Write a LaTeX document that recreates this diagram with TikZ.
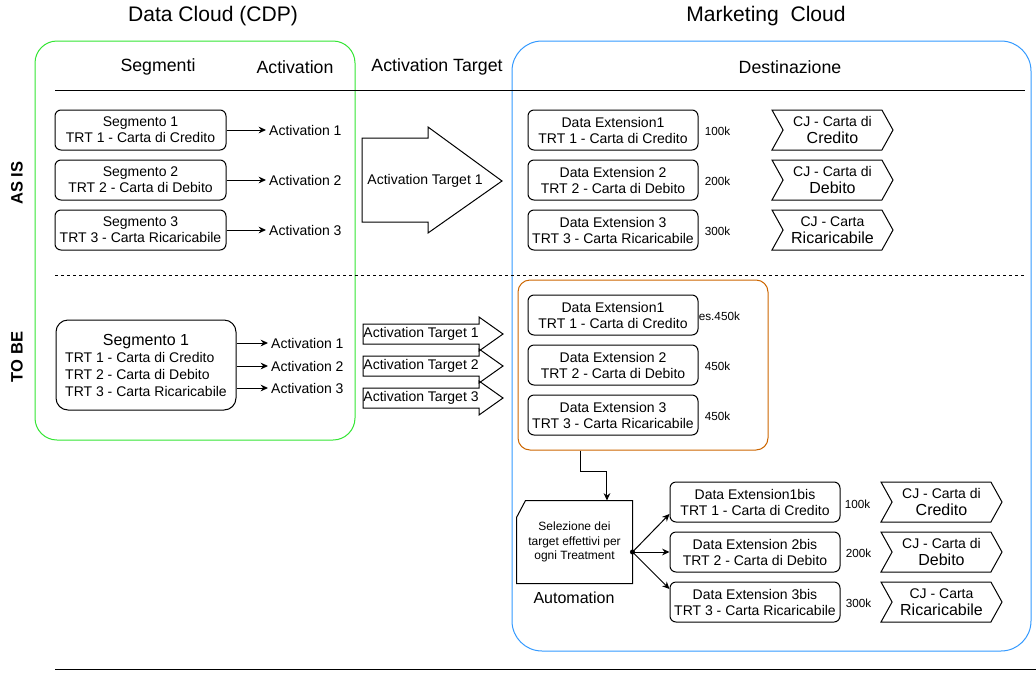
\documentclass[tikz,border=0pt]{standalone}
\usepackage{fontspec}
\setmainfont{Liberation Sans}
\usepackage{tikz}
\usetikzlibrary{shapes.symbols,arrows.meta,positioning,calc}
\newlength\pxu
\setlength\pxu{0.75pt}
\newcommand\cjbig{\fontsize{12}{13}\selectfont}

\begin{document}
\begin{tikzpicture}[x=0.75pt,y=-0.75pt,line width=0.75pt,
  font=\fontsize{10.5}{12}\selectfont,
  ttl/.style={font=\fontsize{15.8}{18}\selectfont},
  hdr/.style={font=\fontsize{13.3}{16}\selectfont},
  side/.style={font=\bfseries\fontsize{12.4}{14}\selectfont,rotate=90},
  segbox/.style={draw,rounded corners=6\pxu,minimum width=171\pxu,minimum height=40\pxu,align=center,inner sep=1pt},
  debox/.style={draw,rounded corners=6\pxu,minimum width=170\pxu,minimum height=40\pxu,align=center,inner sep=1pt},
  cjbox/.style={draw,signal,signal from=west,signal to=east,signal pointer angle=122,minimum width=121\pxu,minimum height=40\pxu,align=center,inner sep=1pt},
  act/.style={anchor=west,inner sep=2pt},
  num/.style={anchor=west,inner sep=1pt,font=\fontsize{8.8}{10}\selectfont},
  lnk/.style={-{Stealth[length=5.5pt,width=5pt]}},
  tgt/.style={draw,line join=miter}]
%
\useasboundingbox (0,0) rectangle (1036,672);
%
\definecolor{cgreen}{rgb}{0.2,0.9,0.2}
\definecolor{cblue}{rgb}{0.2,0.6,1.0}
\definecolor{corange}{rgb}{0.8,0.4,0.0}
%
\node (cdp) [ttl] at (213,16) {Data Cloud (CDP)};
\node (mkc) [ttl] at (766,16) {Marketing\ \ Cloud};
%
\node (cdpbox) [draw=cgreen,rounded corners=22\pxu,minimum width=320\pxu,minimum height=399\pxu] at (195,240.5) {};
\node (mkcbox) [draw=cblue,rounded corners=30\pxu,minimum width=519\pxu,minimum height=610\pxu] at (771.5,346) {};
%
\node (hseg) [hdr] at (158,67) {Segmenti};
\node (hact) [hdr] at (295,67) {Activation};
\node (htgt) [hdr] at (437,67) {Activation Target};
\node (hdst) [hdr] at (790,67) {Destinazione};
\draw (55,90) -- (1025,90);
\draw[dash pattern=on 2.25pt off 2.25pt] (55,275) -- (1025,275);
\draw (55,669) -- (1036,669);
%
\node (asis) [side] at (17,183) {AS IS};
\node (tobe) [side] at (17,357) {TO BE};
%
% AS IS
\node (seg1) [segbox] at (140.5,130) {Segmento 1\\TRT 1 - Carta di Credito};
\node (seg2) [segbox] at (140.5,180) {Segmento 2\\TRT 2 - Carta di Debito};
\node (seg3) [segbox] at (140.5,230) {Segmento 3\\TRT 3 - Carta Ricaricabile};
\node (act1) [act] at (266,130) {Activation 1};
\node (act2) [act] at (266,180) {Activation 2};
\node (act3) [act] at (266,230) {Activation 3};
\draw[lnk] (seg1) -- (act1);
\draw[lnk] (seg2) -- (act2);
\draw[lnk] (seg3) -- (act3);
%
\draw[tgt] (362,138) -- (428,138) -- (428,127) -- (502,181) -- (428,233) -- (428,222) -- (362,222) -- cycle;
\node (tgt1) at (425,181) {Activation Target 1};
%
\node (de1) [debox] at (613,130) {Data Extension1\\TRT 1 - Carta di Credito};
\node (de2) [debox] at (613,180) {Data Extension 2\\TRT 2 - Carta di Debito};
\node (de3) [debox] at (613,230) {Data Extension 3\\TRT 3 - Carta Ricaricabile};
\node (n1) [num] at (703,131) {100k};
\node (n2) [num] at (703,181) {200k};
\node (n3) [num] at (703,231) {300k};
\node (cj1) [cjbox] at (832.5,130) {CJ - Carta di\\[1pt]{\cjbig Credito}};
\node (cj2) [cjbox] at (832.5,180) {CJ - Carta di\\[1pt]{\cjbig Debito}};
\node (cj3) [cjbox] at (832.5,230) {CJ - Carta\\[1pt]{\cjbig Ricaricabile}};
%
% TO BE
\node (segtb) [draw,rounded corners=12\pxu,minimum width=180\pxu,minimum height=90\pxu,inner sep=1pt] at (146,365)
  {\fontsize{10.5}{12.75}\selectfont\begin{tabular}{@{}l@{}}\multicolumn{1}{@{}c@{}}{\rule{0pt}{13.5pt}\fontsize{12}{14}\selectfont Segmento 1}\\TRT 1 - Carta di Credito\\TRT 2 - Carta di Debito\\TRT 3 - Carta Ricaricabile\end{tabular}};
\node (acttb1) [act] at (268,343) {Activation 1};
\node (acttb2) [act] at (268,366) {Activation 2};
\node (acttb3) [act] at (268,388) {Activation 3};
\draw[lnk] (segtb.east |- acttb1.west) -- (acttb1);
\draw[lnk] (segtb.east |- acttb2.west) -- (acttb2);
\draw[lnk] (segtb.east |- acttb3.west) -- (acttb3);
%
\draw[tgt] (363,324) -- (479,324) -- (479,317) -- (503,334) -- (479,351) -- (479,344) -- (363,344) -- cycle;
\draw[tgt] (363,356) -- (479,356) -- (479,349) -- (503,366) -- (479,383) -- (479,376) -- (363,376) -- cycle;
\draw[tgt] (363,388) -- (479,388) -- (479,381) -- (503,398) -- (479,415) -- (479,408) -- (363,408) -- cycle;
\node (tgttb1) at (421,334) {Activation Target 1};
\node (tgttb2) at (421,366) {Activation Target 2};
\node (tgttb3) at (421,398) {Activation Target 3};
%
\node (debox) [draw=corange,rounded corners=12\pxu,minimum width=250\pxu,minimum height=170\pxu] at (643,365) {};
\node (detb1) [debox] at (613,315) {Data Extension1\\TRT 1 - Carta di Credito};
\node (detb2) [debox] at (613,365) {Data Extension 2\\TRT 2 - Carta di Debito};
\node (detb3) [debox] at (613,415) {Data Extension 3\\TRT 3 - Carta Ricaricabile};
\node (ntb1) [num] at (697,316) {es.450k};
\node (ntb2) [num] at (703,366) {450k};
\node (ntb3) [num] at (703,416) {450k};
%
\node (auto) [minimum width=115\pxu,minimum height=82\pxu,align=center,inner sep=1pt,font=\fontsize{9}{10.9}\selectfont] at (574.5,542)
  {Selezione dei\\target effettivi per\\ogni Treatment};
\draw (auto.south west) -- (auto.south east) -- (auto.north east) -- ($(auto.north west)+(9,0)$) -- ($(auto.north west)+(0,17)$) -- cycle;
\node (autolbl) [font=\fontsize{12}{14}\selectfont] at (574,598) {Automation};
\draw[lnk] ($(debox.south west)!0.25!(debox.south east)$) -- ++(0,21) -| ($(auto.north west)!0.78!(auto.north east)$);
%
\node (de1b) [debox] at (755,502) {Data Extension1bis\\TRT 1 - Carta di Credito};
\node (de2b) [debox] at (755,552) {Data Extension 2bis\\TRT 2 - Carta di Debito};
\node (de3b) [debox] at (755,602) {Data Extension 3bis\\TRT 3 - Carta Ricaricabile};
\node (n1b) [num] at (843,504) {100k};
\node (n2b) [num] at (844,553) {200k};
\node (n3b) [num] at (844,603) {300k};
\node (cj1b) [cjbox] at (941.5,502) {CJ - Carta di\\[1pt]{\cjbig Credito}};
\node (cj2b) [cjbox] at (941.5,552) {CJ - Carta di\\[1pt]{\cjbig Debito}};
\node (cj3b) [cjbox] at (941.5,602) {CJ - Carta\\[1pt]{\cjbig Ricaricabile}};
%
\coordinate (split) at ($(auto.east)+(0,10)$);
\fill (split) circle (1.9pt);
\draw[lnk] (split) -- ($(de1b.west)+(0,12)$);
\draw[lnk] (split) -- (de2b.west);
\draw[lnk] (split) -- ($(de3b.west)+(0,-13)$);
%
\end{tikzpicture}
\end{document}
